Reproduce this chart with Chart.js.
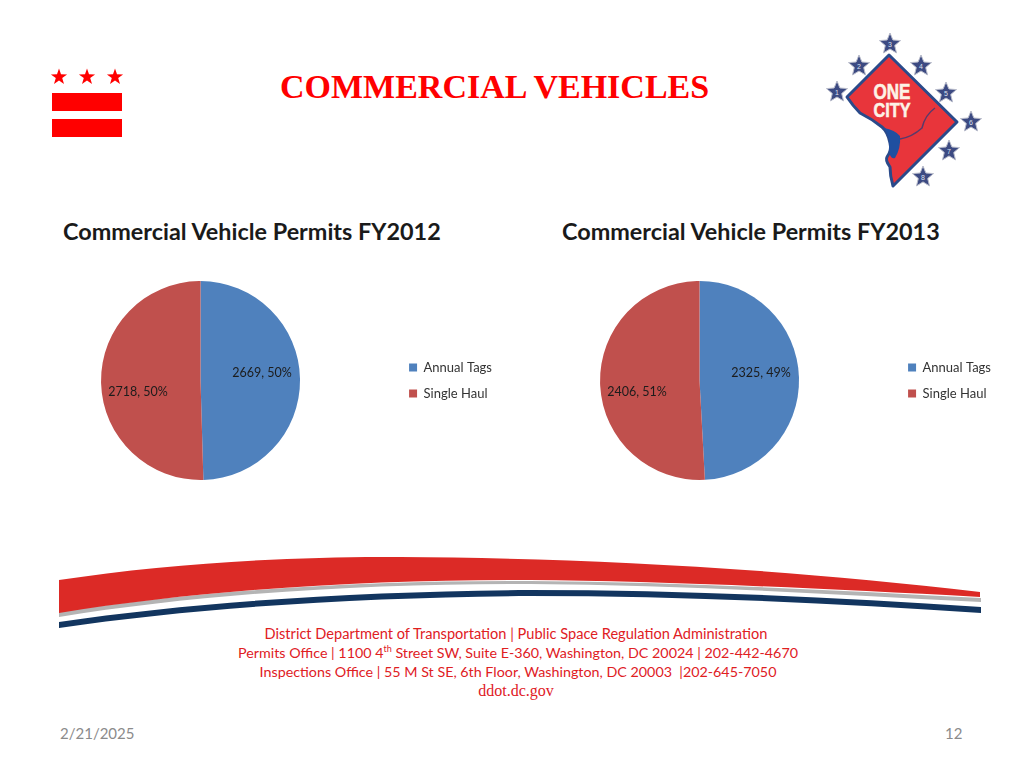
<!DOCTYPE html>
<html lang="en">

<head>
    <meta charset="UTF-8">
    <title>Commercial Vehicles</title>
    <style>
        html, body {
            margin: 0;
            padding: 0;
            background: #fff;
            overflow: hidden;
        }

        #page {
            position: relative;
            width: 1024px;
            height: 768px;
            font-family: Lato, sans-serif;
        }

        #page > * {
            position: absolute;
        }

        #art {
            left: 0;
            top: 0;
        }

        #main-title {
            left: 280px;
            top: 68px;
            font: bold 34px "Liberation Serif", serif;
            color: #ff0000;
            white-space: nowrap;
        }

        .pie-title {
            top: 217px;
            font: bold 23.4px Lato, sans-serif;
            color: #1a1a1a;
            white-space: nowrap;
        }

        .pie-canvas {
            top: 270px;
        }

        #footer {
            left: 0;
            top: 624px;
            width: 1032px;
            text-align: center;
            color: #e0201f;
            font-size: 14.3px;
            line-height: 19px;
        }

        #footer .wide {
            font-size: 14.6px;
        }

        #footer .shift {
            padding-left: 4px;
        }

        #footer sup {
            font-size: 9px;
            line-height: 0;
        }

        #footer .web {
            font-family: "Liberation Serif", serif;
            font-size: 16px;
        }

        .foot-note {
            top: 724px;
            font-size: 15px;
            color: #8b8b8b;
        }
    </style>
</head>

<body>
    <div id="page">
        <svg id="art" width="1024" height="768" xmlns="http://www.w3.org/2000/svg"></svg>
        <div id="main-title">COMMERCIAL VEHICLES</div>
        <div class="pie-title" style="left:63px">Commercial Vehicle Permits FY2012</div>
        <div class="pie-title" style="left:562px">Commercial Vehicle Permits FY2013</div>
        <canvas id="pie-2012" class="pie-canvas" width="502" height="220" style="left:0"></canvas>
        <canvas id="pie-2013" class="pie-canvas" width="502" height="220" style="left:499px"></canvas>
        <div id="footer">
            <div class="wide">District Department of Transportation | Public Space Regulation Administration</div>
            <div class="shift">Permits Office | 1100 4<sup>th</sup> Street SW, Suite E-360, Washington, DC 20024 | 202-442-4670</div>
            <div class="shift">Inspections Office | 55 M St SE, 6th Floor, Washington, DC 20003 &nbsp;|202-645-7050</div>
            <div class="web">ddot.dc.gov</div>
        </div>
        <div class="foot-note" style="left:60px">2/21/2025</div>
        <div class="foot-note" style="left:945px">12</div>
    </div>
    <script src="https://cdn.jsdelivr.net/npm/chart.js"></script>
    <script>
    const categories = ['Annual Tags', 'Single Haul'];
    const permits2012 = [2669, 2718];
    const permits2013 = [2325, 2406];

    // label offsets from the pie centre, blue slice then red slice
    const labelOffsets = [[61.5, -8], [-62.5, 11]];

    const sliceColors = ['#4f81bd', '#c0504d'];

    const pieLabels = {
        id: 'pieLabels',
        afterDatasetsDraw(chart) {
            const ctx = chart.ctx;
            const values = chart.data.datasets[0].data;
            const total = values.reduce((a, b) => a + b, 0);
            ctx.save();
            ctx.font = '12.5px Lato, sans-serif';
            ctx.fillStyle = '#1c1c1c';
            ctx.textAlign = 'center';
            ctx.textBaseline = 'middle';
            chart.getDatasetMeta(0).data.forEach((arc, i) => {
                const text = values[i] + ', ' + Math.round(values[i] / total * 100) + '%';
                ctx.fillText(text, arc.x + labelOffsets[i][0], arc.y + labelOffsets[i][1] + 0.5);
            });
            ctx.restore();
        }
    };

    function drawPie(canvasId, values) {
        new Chart(document.getElementById(canvasId), {
            type: 'pie',
            data: {
                labels: categories,
                datasets: [{
                    data: values,
                    backgroundColor: sliceColors,
                    borderWidth: 0
                }]
            },
            options: {
                responsive: false,
                animation: false,
                layout: { padding: { top: 11, bottom: 10, left: 5 } },
                plugins: {
                    tooltip: { enabled: false },
                    legend: {
                        position: 'right',
                        labels: {
                            boxWidth: 8,
                            boxHeight: 8,
                            padding: 13,
                            color: '#333',
                            font: { family: 'Lato, sans-serif', size: 13 }
                        }
                    }
                }
            },
            plugins: [pieLabels]
        });
    }

    drawPie('pie-2012', permits2012);
    drawPie('pie-2013', permits2013);

    // slide artwork: flag, swoosh and the One City logo
    function starPoints(cx, cy, r, inner) {
        const pts = [];
        for (let i = 0; i < 10; i++) {
            const rad = i % 2 ? r * inner : r;
            const a = -Math.PI / 2 + i * Math.PI / 5;
            pts.push((cx + rad * Math.cos(a)).toFixed(1) + ',' + (cy + rad * Math.sin(a)).toFixed(1));
        }
        return pts.join(' ');
    }

    let art = '';

    [59, 87, 115].forEach(x => {
        art += `<polygon points="${starPoints(x, 77, 8.5, 0.4)}" fill="#ff0000"/>`;
    });
    art += '<rect x="52" y="93" width="70" height="18" fill="#ff0000"/>';
    art += '<rect x="52" y="119" width="70" height="18" fill="#ff0000"/>';

    art += '<path d="M59,612 C200,590 370,580 530,581 C680,582 830,590 981,598 L981,602 C830,594 680,585 530,584 C370,583 200,594 59,617 Z" fill="#b4b4b4"/>';
    art += '<path d="M59,580 C170,563 300,556 400,557 C560,558 760,566 980,592 L980,597 C800,587 650,581 530,580 C370,579 200,590 59,613 Z" fill="#dc2a26"/>';
    art += '<path d="M59,622 C200,601 370,591 530,590 C680,590 830,597 981,607 L981,613 C830,603 680,596 530,596 C370,597 200,607 59,628 Z" fill="#12355f"/>';

    art += '<path d="M889,55 L957,122 L893,186 Q890,176 890,167 Q885,160 887,157 Q892,150 890,143 Q888,132 882,127 Q872,119 860,113 Q853,106 847,97 Z" fill="#e8353b" stroke="#2a4a8a" stroke-width="3" stroke-linejoin="round"/>';
    art += '<path d="M884,128 Q895,130 900,136 Q901,148 895,158 Q890,160 889,150 Q891,138 884,128 Z" fill="#1f4fa0"/>';
    art += '<path d="M900,139 Q912,137 922,128 Q925,115 935,108" fill="none" stroke="#5a3a6a" stroke-width="1.5"/>';
    art += '<text x="892" y="99" text-anchor="middle" textLength="37" lengthAdjust="spacingAndGlyphs" font-family="Liberation Sans" font-weight="bold" font-size="22" fill="#fdf3e6" stroke="#fdf3e6" stroke-width="0.6">ONE</text>';
    art += '<text x="892" y="117" text-anchor="middle" textLength="37" lengthAdjust="spacingAndGlyphs" font-family="Liberation Sans" font-weight="bold" font-size="21" fill="#fdf3e6" stroke="#fdf3e6" stroke-width="0.6">CITY</text>';

    [[837, 92], [859, 66], [890, 44], [921, 66], [946, 93], [971, 122], [949, 151], [923, 177]].forEach((p, i) => {
        art += `<polygon points="${starPoints(p[0], p[1], 11, 0.45)}" fill="#3c4a82" stroke="#b9bccb" stroke-width="1"/>`;
        art += `<text x="${p[0]}" y="${p[1] + 3}" text-anchor="middle" font-family="Liberation Sans" font-size="7" fill="#dfe2f0">${i + 1}</text>`;
    });

    document.getElementById('art').innerHTML = art;
    </script>
</body>

</html>
